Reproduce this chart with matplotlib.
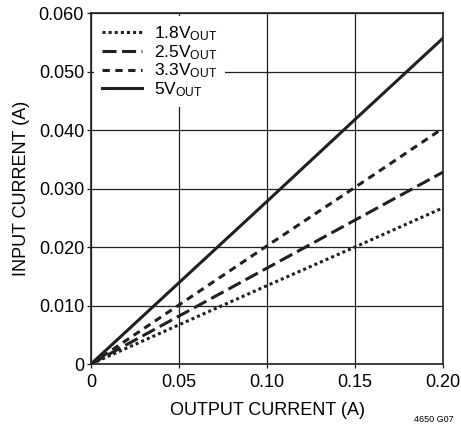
import matplotlib
matplotlib.use('Agg')
import matplotlib.pyplot as plt

# font: condensed sans like the datasheet (narrow face if present)
plt.rcParams['font.family'] = ['Liberation Sans Narrow', 'Liberation Sans', 'DejaVu Sans']
plt.rcParams['mathtext.default'] = 'regular'
plt.rcParams['font.size'] = 13

# --- data ---
output_current = [0.0, 0.05, 0.10, 0.15, 0.20]
input_1v8 = [0.0, 0.0067, 0.0134, 0.0200, 0.0267]
input_2v5 = [0.0, 0.0082, 0.0164, 0.0246, 0.0328]
input_3v3 = [0.0, 0.0101, 0.0202, 0.0302, 0.0403]
input_5v = [0.0, 0.0139, 0.0278, 0.0418, 0.0557]

series_labels = [r'1.8V$_{OUT}$', r'2.5V$_{OUT}$', r'3.3V$_{OUT}$', r'5V$_{OUT}$']
x_ticks = [0, 0.05, 0.10, 0.15, 0.20]
x_tick_labels = ['0', '0.05', '0.10', '0.15', '0.20']
y_ticks = [0, 0.01, 0.02, 0.03, 0.04, 0.05, 0.06]
y_tick_labels = ['0', '0.010', '0.020', '0.030', '0.040', '0.050', '0.060']

fig = plt.figure(figsize=(4.61, 4.25), dpi=100)
ax = fig.add_axes([0.1974, 0.1435, 0.7636, 0.8259])

line_color = '#231f20'
lw = 2.2
ax.plot(output_current, input_1v8, color=line_color, lw=lw, linestyle=(0, (1, 1)),
        label=series_labels[0])
ax.plot(output_current, input_2v5, color=line_color, lw=lw, linestyle=(0, (4.6, 1.8)),
        label=series_labels[1])
ax.plot(output_current, input_3v3, color=line_color, lw=lw, linestyle=(0, (2.4, 1.8)),
        label=series_labels[2])
ax.plot(output_current, input_5v, color=line_color, lw=lw, linestyle='-',
        label=series_labels[3])

ax.set_xlim(0, 0.20)
ax.set_ylim(0, 0.06)
ax.set_xticks(x_ticks)
ax.set_xticklabels(x_tick_labels)
ax.set_yticks(y_ticks)
ax.set_yticklabels(y_tick_labels)
ax.grid(True, color=line_color, linewidth=0.9)
ax.set_axisbelow(True)
ax.tick_params(axis='both', direction='out', length=3, width=0.9, colors=line_color,
               labelcolor='black', pad=2)
ax.tick_params(axis='x', pad=4)

for side in ['bottom', 'left', 'top', 'right']:
    ax.spines[side].set_linewidth(1.2)
    ax.spines[side].set_color(line_color)

ax.set_xlabel('OUTPUT CURRENT (A)', labelpad=8)
ax.set_ylabel('INPUT CURRENT (A)', labelpad=6)

leg = ax.legend(loc='upper left', frameon=True, fancybox=False, fontsize=12.5,
                handlelength=2.3, handletextpad=0.65, labelspacing=0.0,
                borderpad=0.45, borderaxespad=0.2)
leg.get_frame().set_edgecolor('none')
leg.get_frame().set_facecolor('white')
leg.get_frame().set_alpha(1.0)

fig.text(0.985, 0.003, '4650 G07', fontsize=6.5, ha='right', va='bottom')

fig.savefig('out.png', dpi=100)
